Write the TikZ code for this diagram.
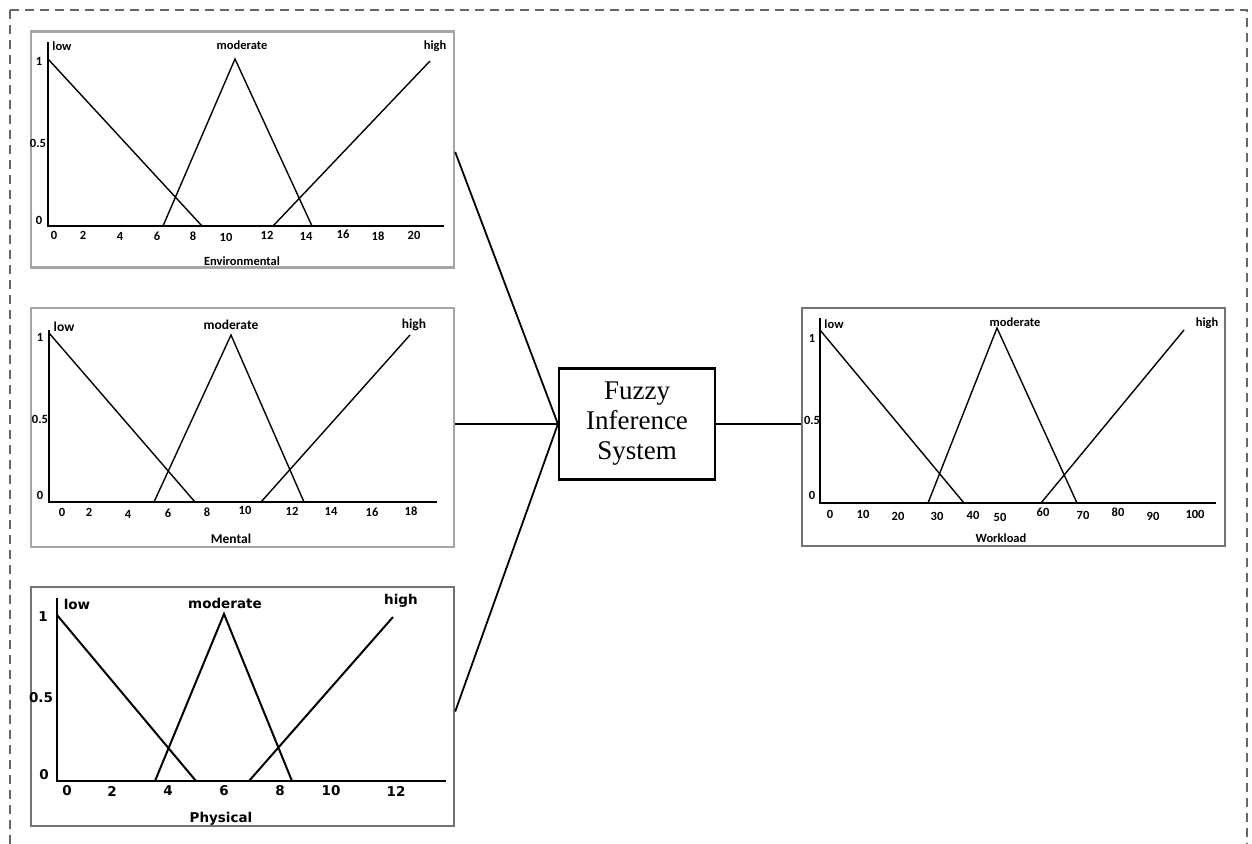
\documentclass[tikz,border=0pt]{standalone}
\usepackage{fontspec}
\setmainfont{Liberation Serif}
\newfontfamily\calib{Carlito}
\newfontfamily\dejab{DejaVu Sans}
\begin{document}
\begin{tikzpicture}[x=1pt,y=-1pt,
  lbl/.style={font=\calib\bfseries\fontsize{12.5}{12.5}\selectfont, inner sep=0pt, text=black},
  lblm/.style={font=\calib\bfseries\fontsize{13.5}{13.5}\selectfont, inner sep=0pt, text=black},
  plbl/.style={font=\dejab\bfseries\fontsize{13.5}{13.5}\selectfont, inner sep=0pt, text=black},
  panellight/.style={draw=black!35, line width=2.4pt, inner sep=0pt},
  paneldark/.style={draw=black!55, line width=2.4pt, inner sep=0pt},
  mf/.style={line width=1.4pt, line join=miter},
  mfb/.style={line width=2pt, line join=miter},
  ax/.style={line width=1.3pt},
  link/.style={line width=1.8pt},
  fisbox/.style={draw, line width=2.2pt, inner sep=0pt, minimum width=156pt, minimum height=111pt,
     align=center, font=\fontsize{27}{30}\selectfont}
]
\useasboundingbox (0,0) rectangle (1252,843);
% outer dashed frame
\draw[black!60, line width=2pt, dash pattern=on 9pt off 6pt] (10,10) -- (1247,10) -- (1247,850);
\draw[black!60, line width=2pt, dash pattern=on 9pt off 6pt] (10,10) -- (10,850);

% panel frames
\node[panellight, minimum width=423pt, minimum height=236pt] (env) at (242.5,149.5) {};
\node[panellight, minimum width=423pt, minimum height=239pt] (men) at (242.5,427.5) {};
\node[paneldark, minimum width=423pt, minimum height=239pt] (phy) at (242.5,706.5) {};
\node[paneldark, minimum width=423pt, minimum height=238pt] (wl) at (1013.5,427) {};

% FIS
\node[fisbox] (fis) at (637,424) {Fuzzy\\Inference\\System};

% connectors
\draw[link] ([yshift=-2.5pt]env.east) -- (fis.west);
\draw[link] (men.east |- fis.west) -- (fis.west);
\draw[link] ([yshift=-5pt]phy.east) -- (fis.west);
\draw[link] (fis.east) -- (wl.west |- fis.east);

% ---------- Environmental ----------
\draw[ax] (48,42) -- (48,226) -- (444,226);
\draw[mf] (48,59) -- (202,226);
\draw[mf] (163,226) -- (235,59) -- (312,226);
\draw[mf] (273,226) -- (430,61);
\node[lbl] at (39,61) {1};
\node[lbl] at (38,143) {0.5};
\node[lbl] at (39,220) {0};
\node[lbl] at (62,46) {low};
\node[lbl] at (242,45) {moderate};
\node[lbl] at (435,46) {high};
\foreach \x/\t/\yy in {54/0/235,83/2/235,120/4/236,157/6/236,193/8/236,226/10/237,267/12/235,306/14/236,343/16/234,378/18/236,414/20/235}
  \node[lbl] at (\x,\yy) {\t};
\node[lbl] at (242,261) {Environmental};

% ---------- Mental ----------
\draw[ax] (49,330) -- (49,502) -- (437,502);
\draw[mf] (49,333) -- (195,502);
\draw[mf] (154,502) -- (231,335) -- (304,502);
\draw[mf] (261,502) -- (410,335);
\node[lbl] at (40,337) {1};
\node[lbl] at (40,419) {0.5};
\node[lbl] at (40,495) {0};
\node[lblm] at (64,327) {low};
\node[lblm] at (231,325) {moderate};
\node[lblm] at (414,325) {high};
\foreach \x/\t/\yy in {62/0/512,89/2/512,128/4/514,168/6/513,207/8/512,245/10/510,292/12/511,331/14/511,372/16/512,411/18/511}
  \node[lbl] at (\x,\yy) {\t};
\node[lblm] at (231,539) {Mental};

% ---------- Physical ----------
\draw[mfb] (57,598) -- (57,781) -- (446,781);
\draw[mfb] (57,615) -- (196,781);
\draw[mfb] (155,781) -- (224,614) -- (292,781);
\draw[mfb] (249,781) -- (393,617);
\node[plbl] at (43,617) {1};
\node[plbl] at (41,698) {0.5};
\node[plbl] at (44,775) {0};
\node[plbl] at (77,604) {low};
\node[plbl] at (225,603) {moderate};
\node[plbl] at (401,601) {high};
\foreach \x/\t in {67/0,112/2,168/4,224/6,280/8,331/10,396/12}
  \node[plbl] at (\x,791) {\t};
\node[plbl] at (221,819) {Physical};

% ---------- Workload ----------
\draw[ax] (820,318) -- (820,503) -- (1216,503);
\draw[mf] (820,330) -- (964,503);
\draw[mf] (928,503) -- (997,328) -- (1077,503);
\draw[mf] (1041,503) -- (1184,330);
\node[lbl] at (812,338) {1};
\node[lbl] at (812,420) {0.5};
\node[lbl] at (812,495) {0};
\node[lbl] at (834,324) {low};
\node[lbl] at (1015,322) {moderate};
\node[lbl] at (1207,323) {high};
\foreach \x/\t/\yy in {830/0/514,863/10/514,898/20/516,937/30/516,973/40/515,1000/50/517,1043/60/512,1083/70/515,1118/80/512,1153/90/516,1195/100/514}
  \node[lbl] at (\x,\yy) {\t};
\node[lbl] at (1001,538) {Workload};
\end{tikzpicture}
\end{document}
